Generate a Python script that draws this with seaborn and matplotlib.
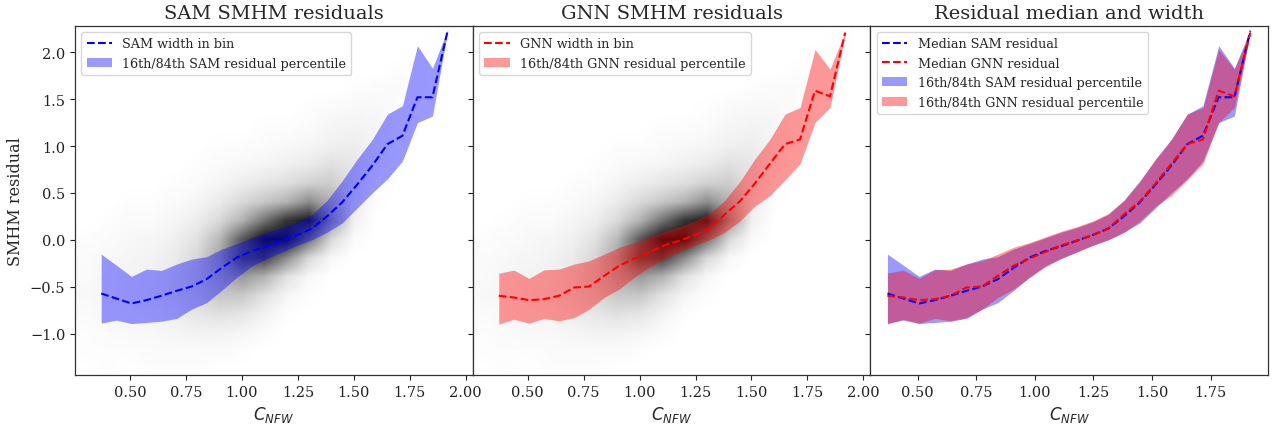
import numpy as np
import pandas as pd
import matplotlib
matplotlib.use("Agg")
import matplotlib.pyplot as plt
import seaborn as sns

# ---------------- data ----------------
cnfw_bins = [0.371, 0.438, 0.506, 0.573, 0.640, 0.708, 0.775, 0.842, 0.909, 0.977,
             1.044, 1.111, 1.179, 1.246, 1.313, 1.380, 1.448, 1.515, 1.582, 1.650,
             1.717, 1.784, 1.851, 1.919]

sam_median = [-0.573, -0.626, -0.679, -0.644, -0.597, -0.544, -0.498, -0.420, -0.300, -0.190,
              -0.120, -0.070, -0.010, 0.050, 0.120, 0.250, 0.400, 0.590, 0.790, 1.020,
              1.110, 1.520, 1.520, 2.230]
sam_p84 = [-0.153, -0.270, -0.391, -0.313, -0.327, -0.259, -0.206, -0.180, -0.100, -0.040,
           0.020, 0.080, 0.130, 0.190, 0.270, 0.420, 0.630, 0.860, 1.070, 1.340,
           1.430, 2.070, 1.830, 2.240]
sam_p16 = [-0.889, -0.857, -0.893, -0.882, -0.868, -0.839, -0.740, -0.670, -0.540, -0.400,
           -0.280, -0.200, -0.130, -0.060, 0.000, 0.080, 0.180, 0.340, 0.500, 0.650,
           0.840, 1.250, 1.320, 2.220]

gnn_median = [-0.597, -0.615, -0.644, -0.633, -0.597, -0.509, -0.498, -0.384, -0.277, -0.200,
              -0.130, -0.060, -0.010, 0.050, 0.120, 0.270, 0.410, 0.600, 0.810, 1.020,
              1.070, 1.590, 1.530, 2.210]
gnn_p84 = [-0.356, -0.323, -0.412, -0.320, -0.313, -0.259, -0.224, -0.153, -0.080, -0.030,
           0.030, 0.090, 0.140, 0.200, 0.280, 0.420, 0.620, 0.860, 1.070, 1.340,
           1.410, 2.030, 1.820, 2.220]
gnn_p16 = [-0.900, -0.847, -0.889, -0.839, -0.864, -0.829, -0.740, -0.615, -0.526, -0.400,
           -0.290, -0.200, -0.130, -0.060, 0.000, 0.080, 0.200, 0.360, 0.470, 0.640,
           0.810, 1.250, 1.410, 2.200]

# density of the black scatter cloud (estimated darkness, 0..1),
# columns at these C_NFW values, rows at these residual values (top row first)
cloud_x = [0.3, 0.4, 0.5, 0.6, 0.7, 0.8, 0.9, 1.0, 1.1, 1.2, 1.3, 1.4, 1.5, 1.6, 1.7, 1.8, 1.9, 2.0]
cloud_y = [2.2, 2.0, 1.8, 1.6, 1.4, 1.2, 1.0, 0.8, 0.6, 0.4, 0.2, 0.0, -0.2, -0.4, -0.6, -0.8, -1.0, -1.2, -1.4]
cloud_density = [
    [0, 0, 0, 0, 0, 0, 0, 0, 0, 0, 0, 0, 0, 0, 0, 0, 0.01, 0],
    [0, 0, 0, 0, 0, 0, 0, 0, 0, 0, 0, 0, 0, 0, 0, 0.01, 0.01, 0],
    [0, 0, 0, 0, 0, 0, 0, 0, 0, 0, 0, 0, 0, 0, 0.01, 0.01, 0, 0],
    [0, 0, 0, 0, 0, 0, 0, 0, 0, 0, 0, 0, 0.01, 0.02, 0.02, 0.01, 0, 0],
    [0, 0, 0, 0, 0, 0, 0, 0, 0, 0, 0.01, 0.02, 0.03, 0.03, 0.02, 0, 0, 0],
    [0, 0, 0, 0, 0, 0, 0, 0, 0.01, 0.01, 0.02, 0.04, 0.05, 0.04, 0.02, 0, 0, 0],
    [0, 0, 0, 0, 0, 0, 0.01, 0.01, 0.02, 0.03, 0.04, 0.06, 0.07, 0.04, 0.01, 0, 0, 0],
    [0, 0, 0, 0, 0, 0.01, 0.02, 0.03, 0.04, 0.06, 0.08, 0.12, 0.10, 0.04, 0, 0, 0, 0],
    [0, 0, 0, 0, 0.01, 0.02, 0.04, 0.07, 0.10, 0.13, 0.18, 0.20, 0.10, 0.02, 0, 0, 0, 0],
    [0, 0, 0.01, 0.01, 0.02, 0.04, 0.08, 0.15, 0.22, 0.30, 0.45, 0.30, 0.08, 0.01, 0, 0, 0, 0],
    [0, 0.01, 0.02, 0.02, 0.04, 0.07, 0.15, 0.30, 0.55, 0.80, 0.90, 0.40, 0.06, 0, 0, 0, 0, 0],
    [0.01, 0.02, 0.03, 0.04, 0.06, 0.12, 0.28, 0.65, 0.95, 0.95, 0.55, 0.15, 0.02, 0, 0, 0, 0, 0],
    [0.02, 0.03, 0.04, 0.05, 0.08, 0.16, 0.35, 0.70, 0.75, 0.45, 0.15, 0.03, 0, 0, 0, 0, 0, 0],
    [0.02, 0.04, 0.05, 0.06, 0.10, 0.18, 0.30, 0.40, 0.30, 0.12, 0.03, 0, 0, 0, 0, 0, 0, 0],
    [0.03, 0.04, 0.05, 0.07, 0.10, 0.15, 0.22, 0.22, 0.12, 0.04, 0.01, 0, 0, 0, 0, 0, 0, 0],
    [0.02, 0.03, 0.04, 0.05, 0.07, 0.10, 0.12, 0.10, 0.05, 0.01, 0, 0, 0, 0, 0, 0, 0, 0],
    [0.01, 0.02, 0.03, 0.03, 0.04, 0.05, 0.05, 0.04, 0.02, 0, 0, 0, 0, 0, 0, 0, 0, 0],
    [0.01, 0.01, 0.01, 0.02, 0.02, 0.02, 0.02, 0.01, 0, 0, 0, 0, 0, 0, 0, 0, 0, 0],
    [0, 0.01, 0, 0.01, 0.01, 0.01, 0, 0, 0, 0, 0, 0, 0, 0, 0, 0, 0, 0],
]

titles = ["SAM SMHM residuals", "GNN SMHM residuals", "Residual median and width"]

# ---------------- styling ----------------
sns.set_style("ticks")
plt.rcParams["font.family"] = ["DejaVu Serif"]
plt.rcParams["mathtext.fontset"] = "dejavusans"
plt.rcParams["axes.edgecolor"] = "#333333"

df = pd.DataFrame({"cnfw": cnfw_bins,
                   "sam_med": sam_median, "sam_lo": sam_p16, "sam_hi": sam_p84,
                   "gnn_med": gnn_median, "gnn_lo": gnn_p16, "gnn_hi": gnn_p84})

fig, axes = plt.subplots(1, 3, figsize=(12.73, 4.27), dpi=100, sharey=True)
fig.subplots_adjust(left=0.059, right=0.996, top=0.937, bottom=0.119, wspace=0)

# scatter cloud image
dens = np.array(cloud_density, dtype=float)
rgba = np.zeros(dens.shape + (4,))
rgba[..., 3] = np.clip(dens, 0, 1)
dx = cloud_x[1] - cloud_x[0]
dy = cloud_y[0] - cloud_y[1]
extent = [cloud_x[0] - dx / 2, cloud_x[-1] + dx / 2, cloud_y[-1] - dy / 2, cloud_y[0] + dy / 2]

ylim = (-1.444, 2.281)

def draw_band(ax, pre, color, med_label, band_label):
    ax.fill_between(df["cnfw"], df[pre + "_lo"], df[pre + "_hi"], color=color,
                    alpha=0.4, linewidth=0, label=band_label, zorder=2)
    sns.lineplot(data=df, x="cnfw", y=pre + "_med", ax=ax, color=color,
                 linestyle="--", linewidth=1.5, label=med_label, zorder=3, sort=False)

for i, ax in enumerate(axes[:2]):
    ax.imshow(rgba, extent=extent, origin="upper", aspect="auto",
              interpolation="bilinear", zorder=1)

draw_band(axes[0], "sam", "blue", "SAM width in bin", "16th/84th SAM residual percentile")
draw_band(axes[1], "gnn", "red", "GNN width in bin", "16th/84th GNN residual percentile")

ax3 = axes[2]
ax3.fill_between(df["cnfw"], df["sam_lo"], df["sam_hi"], color="blue", alpha=0.4,
                 linewidth=0, label="16th/84th SAM residual percentile", zorder=2)
ax3.fill_between(df["cnfw"], df["gnn_lo"], df["gnn_hi"], color="red", alpha=0.4,
                 linewidth=0, label="16th/84th GNN residual percentile", zorder=2)
sns.lineplot(data=df, x="cnfw", y="sam_med", ax=ax3, color="blue", linestyle="--",
             linewidth=1.5, label="Median SAM residual", zorder=3, sort=False)
sns.lineplot(data=df, x="cnfw", y="gnn_med", ax=ax3, color="red", linestyle="--",
             linewidth=1.5, label="Median GNN residual", zorder=3, sort=False)

for i, ax in enumerate(axes):
    ax.set_title(titles[i], fontsize=14)
    ax.set_xlabel(r"$C_{NFW}$", fontsize=12)
    ax.set_ylabel("")
    ax.set_ylim(*ylim)
    ax.tick_params(labelsize=10.5, direction="out", length=3.5, width=0.8, colors="#222222")
    for s in ax.spines.values():
        s.set_visible(True)
        s.set_linewidth(0.9)
    if i < 2:
        ax.set_xlim(0.2545, 2.031)
    else:
        ax.set_xlim(0.298, 1.994)
    ax.set_xticks([0.5, 0.75, 1.0, 1.25, 1.5, 1.75, 2.0] if i < 2 else [0.5, 0.75, 1.0, 1.25, 1.5, 1.75])
    ax.set_xticklabels(["0.50", "0.75", "1.00", "1.25", "1.50", "1.75", "2.00"][: len(ax.get_xticks())])
    h, l = ax.get_legend_handles_labels()
    if i < 2:
        order = [l.index(x) for x in l if "width" in x] + [l.index(x) for x in l if "percentile" in x]
    else:
        order = [l.index("Median SAM residual"), l.index("Median GNN residual"),
                 l.index("16th/84th SAM residual percentile"), l.index("16th/84th GNN residual percentile")]
    ax.legend([h[j] for j in order], [l[j] for j in order], loc="upper left", fontsize=9.2,
              frameon=True, fancybox=True, framealpha=0.8, edgecolor="#cccccc")

axes[0].set_yticks([-1.0, -0.5, 0.0, 0.5, 1.0, 1.5, 2.0])
axes[0].set_ylabel("SMHM residual", fontsize=11.5)

fig.savefig("out.png", dpi=100)
